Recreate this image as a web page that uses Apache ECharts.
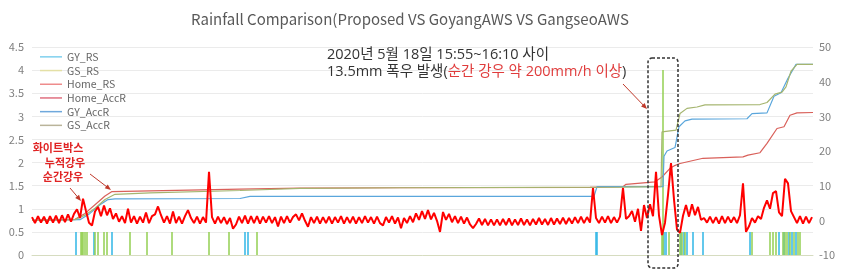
<!DOCTYPE html>
<html><head><meta charset="utf-8">
<script src="https://cdn.jsdelivr.net/npm/echarts@6/dist/echarts.min.js"></script>
<style>html,body{margin:0;padding:0;background:#fff}#c{width:853px;height:276px}</style>
</head><body><div id="c"></div>
<script>
// ---- data (x = sample index along the record) ----
const seriesNames = ['GY_RS','GS_RS','Home_RS','Home_AccR','GY_AccR','GS_AccR'];
const leftTicks = [0,0.5,1,1.5,2,2.5,3,3.5,4,4.5];
const rightTicks = [-10,0,10,20,30,40,50];
const xMax = 781;
const homeRSStep = 3;
const homeRS = [
0.82,0.69,0.84,0.70,0.83,0.68,0.84,0.70,0.85,0.69,
0.86,0.71,0.88,0.72,0.89,0.99,0.80,1.22,0.95,0.70,
0.64,0.94,1.04,0.84,1.07,0.86,1.01,0.78,0.90,0.72,
0.84,0.69,1.00,0.70,0.84,0.68,0.83,0.70,0.92,0.69,
0.84,0.88,1.05,0.86,0.70,0.84,0.68,0.94,0.69,0.83,
0.68,0.84,0.97,0.80,0.69,0.83,0.68,0.82,0.70,1.80,
0.82,0.68,0.83,0.69,0.82,0.67,0.80,0.57,0.66,0.83,
0.69,0.85,0.68,0.84,0.69,0.84,0.68,0.83,0.70,0.84,
0.69,0.82,0.62,0.83,0.69,0.84,0.70,0.82,0.88,0.75,
0.90,0.74,0.61,0.82,0.69,0.83,0.68,0.82,0.69,0.83,
0.68,0.82,0.70,0.84,0.68,0.82,0.69,0.83,0.68,0.82,
0.69,0.84,0.70,0.82,0.68,0.83,0.69,0.64,0.82,0.70,
0.84,0.68,0.81,0.58,0.80,0.69,0.84,0.71,0.90,0.76,
0.95,0.78,0.97,0.77,0.91,0.74,0.50,0.93,0.76,0.89,
0.71,0.84,0.69,0.83,0.68,0.81,0.66,0.58,0.67,0.79,
0.65,0.78,0.64,0.77,0.64,0.77,0.64,0.78,0.65,0.79,
0.64,0.77,0.65,0.79,0.65,0.77,0.64,0.78,0.66,0.80,
0.66,0.78,0.65,0.80,0.66,0.79,0.67,0.81,0.67,0.80,
0.68,0.82,0.69,0.83,0.69,0.82,0.70,1.45,0.80,0.69,
0.83,0.70,0.84,0.69,0.82,0.70,0.83,1.45,0.78,0.84,
0.95,0.72,1.00,0.52,1.08,0.80,1.10,0.84,1.80,0.85,
0.43,0.70,1.30,1.99,1.20,0.55,0.48,0.85,1.08,0.83,
1.10,0.86,1.04,0.76,0.80,0.70,0.83,0.69,0.82,0.68,
0.84,0.69,0.83,0.70,0.82,0.69,0.86,1.55,0.50,0.62,
0.80,0.70,0.84,0.78,1.02,1.18,1.00,1.34,1.38,0.92,
0.84,1.65,1.55,0.95,0.82,0.69,0.84,0.68,0.83,0.69,0.82
];
const homeAccR = [[0,0],[43,0.3],[53,2.0],[63,4.5],[73,7.0],[80,8.3],[118,8.5],[208,9.0],[268,9.3],[368,9.4],[558,9.5],[591,9.7],[594,10.4],[623,11.1],[630,12.5],[638,15.0],[642,15.7],[648,16.4],[671,17.9],[711,18.3],[716,18.8],[728,19.5],[735,22.2],[745,26.5],[752,27.0],[758,30.3],[765,31.0],[781,31.1]];
const gyAccR = [[0,0],[48,0.2],[58,2.0],[68,4.5],[76,6.0],[83,6.2],[208,6.3],[218,6.9],[562,6.9],[565,9.7],[631,9.7],[632,18.5],[635,20.0],[643,21.0],[647,27.0],[653,28.7],[660,29.2],[715,29.3],[720,30.8],[735,31.0],[742,35.8],[749,36.8],[756,41.0],[764,45.0],[781,45.0]];
const gsAccR = [[0,0],[43,0.2],[53,1.5],[63,3.5],[73,6.0],[83,7.5],[118,7.9],[208,8.6],[268,9.2],[368,9.4],[588,9.6],[629,9.7],[630,25.5],[644,26.0],[648,30.8],[655,32.3],[665,32.7],[673,33.3],[728,33.4],[735,34.0],[743,36.4],[750,37.0],[754,38.5],[759,43.0],[765,45.0],[781,45.0]];
const gyRS = [[44,0.5],[62,0.5],[80,0.5],[213,0.5],[216,0.5],[564,0.5],[565,0.5],[632,0.5],[634,0.5],[649,0.5],[652,0.5],[655,0.5],[661,0.5],[671,0.5],[718,0.5],[747,0.5],[752,0.5],[757,0.5],[760,0.5],[764,0.5]];
const gsRS = [[49,0.5],[50,0.5],[51,0.5],[53,0.5],[55,0.5],[63,0.5],[66,0.5],[72,0.5],[75,0.5],[98,0.5],[115,0.5],[140,0.5],[177,0.5],[197,0.5],[225,0.5],[630,0.5],[631,4.0],[637,0.5],[648,0.5],[650,0.5],[653,0.5],[720,0.5],[738,0.5],[741,0.5],[744,0.5],[751,0.5],[753,0.5],[755,0.5],[758,0.5],[762,0.5],[766,0.5],[768,0.5]];

// ---- chart ----
const FONT = 'Noto Sans CJK KR';
const FONT2 = "'Open Sans','Noto Sans CJK KR'";
const lineColors = {GY_RS:'#2fb6e6', GS_RS:'#93cf52', Home_RS:'#ff0000', Home_AccR:'#d9605a', GY_AccR:'#5aa6dc', GS_AccR:'#a5b56f'};
const legendColors = ['#7fd0ee','#e4e0a6','#ee8c8c','#e07080','#6fa8dc','#bab49a'];

function arrow(x1,y1,x2,y2,color){
  const a=Math.atan2(y2-y1,x2-x1), L=6, W=2.5;
  const c=Math.cos(a), s=Math.sin(a);
  return [
    {type:'line', shape:{x1,y1,x2:x2-L*c*0.6,y2:y2-L*s*0.6}, style:{stroke:color,lineWidth:1}, z:20},
    {type:'polygon', shape:{points:[[x2,y2],[x2-L*c+W*s,y2-L*s-W*c],[x2-L*c-W*s,y2-L*s+W*c]]}, style:{fill:color}, z:20}
  ];
}

const chart = echarts.init(document.getElementById('c'), null, {renderer:'canvas'});
const option = {
  animation:false,
  backgroundColor:'#fff',
  title:{text:'Rainfall Comparison(Proposed VS GoyangAWS VS GangseoAWS', left:186, top:7,
    textStyle:{fontSize:15, fontWeight:'normal', color:'#595959', fontFamily:FONT}},
  legend:{orient:'vertical', left:35, top:45, itemWidth:22, itemHeight:1.5, itemGap:0, icon:'rect',
    textStyle:{fontSize:10.5, color:'#666', lineHeight:13.7, fontFamily:FONT},
    data: seriesNames.map((n,i)=>({name:n, itemStyle:{color:legendColors[i]}}))},
  grid:{left:32, right:40, top:47, bottom:21},
  xAxis:{type:'value', min:0, max:xMax, axisLabel:{show:false}, axisTick:{show:false}, splitLine:{show:false},
    axisLine:{show:true, lineStyle:{color:'#d6dcc0', width:1}}},
  yAxis:[
    {type:'value', min:leftTicks[0], max:leftTicks[leftTicks.length-1], interval:0.5,
      axisLabel:{color:'#808080', fontSize:11, margin:8, fontFamily:FONT},
      axisLine:{show:false}, axisTick:{show:false}, splitLine:{lineStyle:{color:'#ebebeb'}}},
    {type:'value', min:rightTicks[0], max:rightTicks[rightTicks.length-1], interval:10,
      axisLabel:{color:'#808080', fontSize:11, margin:6, fontFamily:FONT},
      axisLine:{show:false}, axisTick:{show:false}, splitLine:{show:false}}
  ],
  series:[
    {name:'GY_RS', type:'bar', yAxisIndex:0, barWidth:1.5, data:gyRS, itemStyle:{color:lineColors.GY_RS}, z:1},
    {name:'GS_RS', type:'bar', yAxisIndex:0, barWidth:1.5, barGap:'-100%', data:gsRS, itemStyle:{color:lineColors.GS_RS}, z:1},
    {name:'Home_RS', type:'line', yAxisIndex:0, showSymbol:false, symbol:'none', data:homeRS.map((v,i)=>[i*homeRSStep,v]),
      lineStyle:{color:lineColors.Home_RS, width:2}, itemStyle:{color:lineColors.Home_RS}, z:4},
    {name:'Home_AccR', type:'line', yAxisIndex:1, symbol:'none', data:homeAccR, lineStyle:{color:lineColors.Home_AccR, width:1.2}, itemStyle:{color:lineColors.Home_AccR}, z:3},
    {name:'GY_AccR', type:'line', yAxisIndex:1, symbol:'none', data:gyAccR, lineStyle:{color:lineColors.GY_AccR, width:1.2}, itemStyle:{color:lineColors.GY_AccR}, z:3},
    {name:'GS_AccR', type:'line', yAxisIndex:1, symbol:'none', data:gsAccR, lineStyle:{color:lineColors.GS_AccR, width:1.2}, itemStyle:{color:lineColors.GS_AccR}, z:3}
  ],
  graphic:[
    {type:'rect', shape:{x:648, y:58, width:30, height:210, r:4}, style:{fill:null, stroke:'#333', lineWidth:1.5, lineDash:[3,2]}, z:20},
    {type:'text', x:327, y:55, style:{text:'2020년 5월 18일 15:55~16:10 사이', fill:'#333', fontSize:14.5, fontFamily:FONT2, verticalAlign:'middle'}, z:20},
    {type:'text', x:327, y:72, style:{text:'{k|13.5mm 폭우 발생(}{r|순간 강우 약 200mm/h 이상}{k|)}', verticalAlign:'middle', fontFamily:FONT2, fontSize:14.5,
      rich:{k:{fill:'#333', fontSize:14.5, fontFamily:FONT2}, r:{fill:'#e03c3c', fontSize:14.5, fontFamily:FONT2}}}, z:20},
    {type:'text', x:58, y:148, style:{text:'화이트박스', fill:'#e02424', fontSize:11, fontWeight:'bold', fontFamily:FONT, align:'center', verticalAlign:'middle'}, z:20},
    {type:'text', x:65, y:163, style:{text:'누적강우', fill:'#e02424', fontSize:11, fontWeight:'bold', fontFamily:FONT, align:'center', verticalAlign:'middle'}, z:20},
    {type:'text', x:63, y:177, style:{text:'순간강우', fill:'#e02424', fontSize:11, fontWeight:'bold', fontFamily:FONT, align:'center', verticalAlign:'middle'}, z:20},
    ...arrow(623,84,647,109,'#c0392b'),
    ...arrow(70,188,81,201,'#c0392b'),
    ...arrow(90,174,111,190,'#c0392b')
  ]
};
chart.setOption(option);
</script></body></html>
